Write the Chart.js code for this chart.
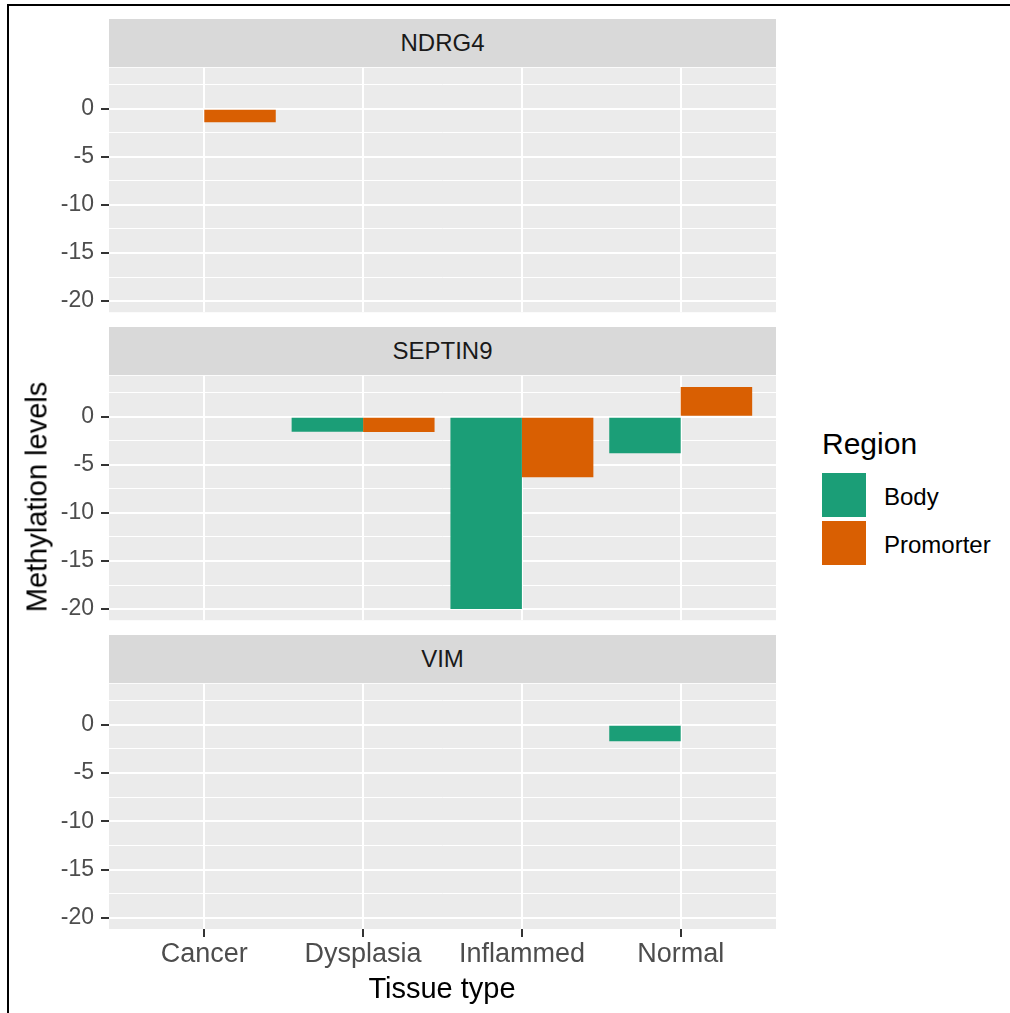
<!DOCTYPE html>
<html>
<head>
<meta charset="utf-8">
<title>Methylation levels by tissue type</title>
<script src="https://cdn.jsdelivr.net/npm/chart.js@4.4.1/dist/chart.umd.min.js"></script>
<style>
  html, body { margin: 0; padding: 0; background: #ffffff; }
  body { width: 1010px; height: 1013px; position: relative; overflow: hidden;
         font-family: "Liberation Sans", Arial, sans-serif; }
  .frame { position: absolute; left: 7px; top: 4px; width: 1030px; height: 1030px;
           border-left: 2px solid #000; border-top: 2px solid #000; }
  .strip { position: absolute; left: 109px; width: 667px; height: 48px; background: #D9D9D9;
           color: #1A1A1A; font-size: 24px; line-height: 48px; text-align: center; }
  .panel { position: absolute; left: 0; }
  .txt { position: absolute; line-height: 1; white-space: nowrap; }
  .key { position: absolute; left: 822px; width: 44px; height: 44px; }
</style>
</head>
<body>
<div class="frame"></div>
<div id="strips"></div>
<div id="panels"></div>

<div class="txt" style="left:37px; top:497px; font-size:29px; color:#000; transform:translate(-50%,-50%) rotate(-90deg);">Methylation levels</div>
<div class="txt" style="left:442px; top:988px; font-size:29px; color:#000; transform:translate(-50%,-50%);">Tissue type</div>

<div class="txt" style="left:822px; top:444px; font-size:30px; color:#000; transform:translateY(-50%);">Region</div>
<div id="legend"></div>

<script>
// Categories and values (methylation level per gene, tissue type and region)
const tissues = ['Cancer', 'Dysplasia', 'Inflammed', 'Normal'];
const genes = ['NDRG4', 'SEPTIN9', 'VIM'];
const regions = ['Body', 'Promorter'];

const ndrg4Body        = [null, null, null, null];
const ndrg4Promorter   = [-1.4, null, null, null];
const septin9Body      = [null, -1.55, -20.0, -3.8];
const septin9Promorter = [null, -1.6, -6.3, 3.1];
const vimBody          = [null, null, null, -1.7];
const vimPromorter     = [null, null, null, null];

const yBreaks = [-20, -15, -10, -5, 0];
const yMinorBreaks = [-17.5, -12.5, -7.5, -2.5, 2.5];
const regionColors = ['#1B9E77', '#D95F02'];

const seriesByGene = [
  [ndrg4Body, ndrg4Promorter],
  [septin9Body, septin9Promorter],
  [vimBody, vimPromorter]
];

// Shared y range: data range (including 0) expanded by 5% on each side
const allValues = [0].concat(...seriesByGene.flat().map(a => a.filter(v => v !== null)));
const dataMin = Math.min(...allValues), dataMax = Math.max(...allValues);
const pad = (dataMax - dataMin) * 0.05;
const yMin = dataMin - pad, yMax = dataMax + pad;

// Discrete x axis: categories at 0..n-1, expanded by 0.6 units each side
const xMin = -0.6, xMax = tissues.length - 1 + 0.6;

const FONT = '"Liberation Sans", Arial, sans-serif';
const STRIP_TOP = [19, 327, 635];
const STRIP_H = 48, PLOT_H = 246;
const PLOT_LEFT = 109, PLOT_RIGHT = 776;
const CANVAS_W = 790;
const PAD_TOP = 20;

const panelBackground = {
  id: 'panelBackground',
  beforeDraw(chart) {
    const { ctx, chartArea: a } = chart;
    ctx.save();
    ctx.fillStyle = '#EBEBEB';
    ctx.fillRect(a.left, a.top, a.right - a.left, a.bottom - a.top);
    ctx.restore();
  }
};

const isMajor = c => c.tick && yBreaks.includes(c.tick.value);

genes.forEach((gene, g) => {
  const last = g === genes.length - 1;

  const strip = document.createElement('div');
  strip.className = 'strip';
  strip.style.top = STRIP_TOP[g] + 'px';
  strip.textContent = gene;
  document.getElementById('strips').appendChild(strip);

  const plotTop = STRIP_TOP[g] + STRIP_H;
  const xAxisH = last ? 52 : 0;
  const padBottom = last ? 10 : 20;
  const canvasH = PAD_TOP + PLOT_H + xAxisH + padBottom;

  const canvas = document.createElement('canvas');
  canvas.className = 'panel';
  canvas.width = CANVAS_W;
  canvas.height = canvasH;
  canvas.style.width = CANVAS_W + 'px';
  canvas.style.height = canvasH + 'px';
  canvas.style.top = (plotTop - PAD_TOP) + 'px';
  document.getElementById('panels').appendChild(canvas);

  const datasets = regions.map((r, k) => ({
    label: r,
    data: tissues.map((t, i) => ({ x: i, y: seriesByGene[g][k][i] })),
    backgroundColor: regionColors[k],
    borderWidth: 0,
    categoryPercentage: 0.9,
    barPercentage: 1.0
  }));

  new Chart(canvas, {
    type: 'bar',
    data: { datasets },
    options: {
      responsive: false,
      animation: false,
      devicePixelRatio: 1,
      layout: { padding: { left: 0, right: CANVAS_W - PLOT_RIGHT, top: PAD_TOP, bottom: padBottom } },
      plugins: { legend: { display: false }, tooltip: { enabled: false } },
      scales: {
        x: {
          type: 'linear',
          min: xMin,
          max: xMax,
          offset: false,
          afterBuildTicks: s => { s.ticks = tissues.map((t, i) => ({ value: i })); },
          afterFit: s => { s.height = xAxisH; },
          border: { display: false },
          grid: {
            offset: false,
            color: '#FFFFFF',
            lineWidth: 2,
            drawTicks: last,
            tickLength: 8,
            tickWidth: 2,
            tickColor: '#333333'
          },
          ticks: {
            display: last,
            autoSkip: false,
            maxRotation: 0,
            minRotation: 0,
            padding: 1,
            color: '#4D4D4D',
            font: { family: FONT, size: 27 },
            callback: v => tissues[v]
          }
        },
        y: {
          min: yMin,
          max: yMax,
          afterBuildTicks: s => {
            s.ticks = yBreaks.concat(yMinorBreaks).sort((a, b) => a - b).map(v => ({ value: v }));
          },
          afterFit: s => { s.width = PLOT_LEFT; },
          border: { display: false },
          grid: {
            color: '#FFFFFF',
            lineWidth: c => isMajor(c) ? 2 : 1,
            drawTicks: true,
            tickLength: 8,
            tickWidth: 2,
            tickColor: c => isMajor(c) ? '#333333' : 'rgba(0,0,0,0)'
          },
          ticks: {
            autoSkip: false,
            padding: 7,
            color: '#4D4D4D',
            font: { family: FONT, size: 23 },
            callback: v => yBreaks.includes(v) ? String(v) : ''
          }
        }
      }
    },
    plugins: [panelBackground]
  });
});

// Legend keys and labels
const legend = document.getElementById('legend');
const keyTops = [473, 521];
regions.forEach((r, k) => {
  const key = document.createElement('div');
  key.className = 'key';
  key.style.top = keyTops[k] + 'px';
  key.style.background = regionColors[k];
  legend.appendChild(key);

  const lab = document.createElement('div');
  lab.className = 'txt';
  lab.style.left = '884px';
  lab.style.top = (keyTops[k] + 24) + 'px';
  lab.style.fontSize = '24px';
  lab.style.color = '#000';
  lab.style.transform = 'translateY(-50%)';
  lab.textContent = r;
  legend.appendChild(lab);
});
</script>
</body>
</html>
